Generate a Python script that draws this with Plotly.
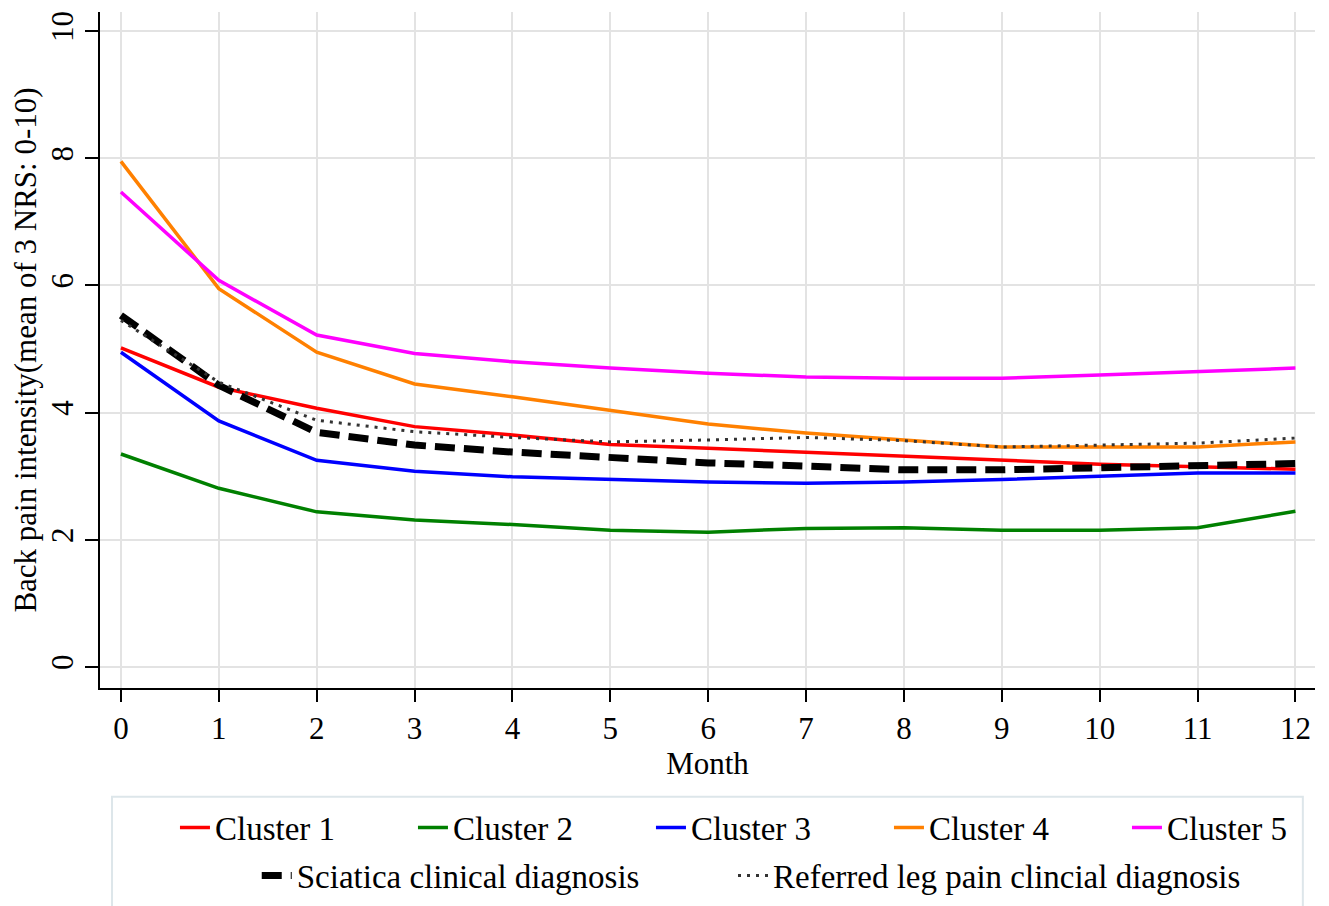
import plotly.graph_objects as go

months = list(range(13))
cluster1 = [5.02, 4.40, 4.07, 3.78, 3.65, 3.50, 3.44, 3.38, 3.32, 3.25, 3.19, 3.15, 3.11]
cluster2 = [3.35, 2.81, 2.44, 2.31, 2.24, 2.15, 2.12, 2.18, 2.19, 2.15, 2.15, 2.19, 2.45]
cluster3 = [4.95, 3.87, 3.25, 3.08, 2.99, 2.95, 2.91, 2.89, 2.91, 2.95, 3.00, 3.05, 3.05]
cluster4 = [7.95, 5.95, 4.95, 4.45, 4.25, 4.04, 3.82, 3.68, 3.57, 3.46, 3.46, 3.46, 3.54]
cluster5 = [7.47, 6.08, 5.22, 4.93, 4.80, 4.70, 4.62, 4.56, 4.54, 4.54, 4.59, 4.65, 4.70]
sciatica = [5.53, 4.43, 3.69, 3.49, 3.38, 3.30, 3.21, 3.16, 3.10, 3.10, 3.13, 3.17, 3.20]
referred = [5.45, 4.48, 3.88, 3.70, 3.61, 3.54, 3.57, 3.61, 3.56, 3.46, 3.49, 3.52, 3.60]

series = [
    ("Cluster 1", cluster1, "#ff0000", 3.5, "solid", "legend"),
    ("Cluster 2", cluster2, "#008000", 3.5, "solid", "legend"),
    ("Cluster 3", cluster3, "#0000ff", 3.5, "solid", "legend"),
    ("Cluster 4", cluster4, "#ff8000", 3.5, "solid", "legend"),
    ("Cluster 5", cluster5, "#ff00ff", 3.5, "solid", "legend"),
    ("Sciatica clinical diagnosis", sciatica, "#000000", 7, "20px,9px", "legend2"),
    ("Referred leg pain clincial diagnosis", referred, "#333333", 3, "3px,6px", "legend3"),
]

FONT = "Liberation Serif, Times New Roman, serif"
FS = 31
LFS = 33

fig = go.Figure()
for name, vals, color, w, dash, lg in series:
    fig.add_trace(go.Scatter(x=months, y=vals, mode="lines", name=name, legend=lg,
                             line=dict(color=color, width=w, dash=dash)))

common = dict(orientation="h", xanchor="left", yanchor="top", borderwidth=0,
              bgcolor="rgba(0,0,0,0)", font=dict(family=FONT, size=LFS))
fig.update_layout(
    width=1321, height=898,
    margin=dict(l=92, r=14, t=4, b=218, autoexpand=False),
    paper_bgcolor="white", plot_bgcolor="white",
    font=dict(family=FONT, size=FS, color="black"),
    showlegend=True,
    legend=dict(x=0.0617, y=-0.165, entrywidth=193, **common),
    legend2=dict(x=0.129, y=-0.236, **common),
    legend3=dict(x=0.521, y=-0.236, **common),
    shapes=[dict(type="rect", xref="paper", yref="paper", x0=0.0099, x1=0.990,
                 y0=-0.161, y1=-0.34, line=dict(color="#dde6ea", width=2),
                 fillcolor="rgba(0,0,0,0)", layer="below")],
)
fig.update_xaxes(range=[-0.214, 12.2], tickmode="array", tickvals=months,
                 showline=True, linecolor="black", linewidth=2,
                 ticks="outside", ticklen=12, tickwidth=2, tickcolor="black",
                 showgrid=True, gridcolor="#e3e3e3", gridwidth=1.5, zeroline=False,
                 title=dict(text="Month", standoff=0, font=dict(size=FS)),
                 tickfont=dict(size=FS))
fig.update_yaxes(range=[-0.33, 10.3], tickmode="array", tickvals=[0, 2, 4, 6, 8, 10],
                 showline=True, linecolor="black", linewidth=2,
                 ticks="outside", ticklen=13, tickwidth=2, tickcolor="black",
                 showgrid=True, gridcolor="#e3e3e3", gridwidth=1.5, zeroline=False,
                 tickangle=-90, tickfont=dict(size=FS),
                 title=dict(text="Back pain intensity(mean of 3 NRS: 0-10)", standoff=8,
                            font=dict(size=31)))

fig.write_html("out.html")
